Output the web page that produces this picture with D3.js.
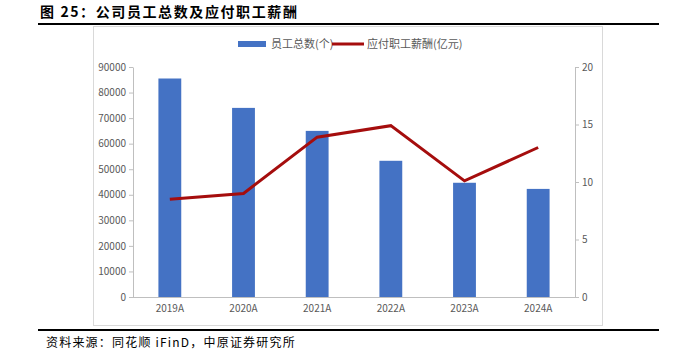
<!DOCTYPE html>
<html>
<head>
<meta charset="utf-8">
<title>公司员工总数及应付职工薪酬</title>
<script src="https://d3js.org/d3.v7.min.js"></script>
<style>
  body { margin: 0; background: #fff; }
  text { font-family: "Noto Sans CJK SC", "DejaVu Sans", sans-serif; }
</style>
</head>
<body>
<script>
// chart data
var years = ["2019A", "2020A", "2021A", "2022A", "2023A", "2024A"];
var staff = [85500, 74000, 65000, 53300, 44700, 42300];      // 员工总数(个)
var payroll = [8.5, 9.0, 13.9, 14.9, 10.1, 13.0];            // 应付职工薪酬(亿元)
var leftTicks = [0, 10000, 20000, 30000, 40000, 50000, 60000, 70000, 80000, 90000];
var rightTicks = [0, 5, 10, 15, 20];

var width = 696, height = 364;
var plotLeft = 133, plotRight = 575, plotTop = 67, plotBottom = 297;

var svg = d3.select("body").append("svg")
  .attr("width", width).attr("height", height);

// title and rules
svg.append("text").attr("x", 40).attr("y", 17)
  .attr("font-size", 14).attr("font-weight", "bold").attr("fill", "#000")
  .attr("letter-spacing", 1.6)
  .text("图 25：公司员工总数及应付职工薪酬");
svg.append("line").attr("x1", 38).attr("x2", 659).attr("y1", 24).attr("y2", 24)
  .attr("stroke", "#000").attr("stroke-width", 2);
svg.append("line").attr("x1", 38).attr("x2", 659).attr("y1", 330).attr("y2", 330)
  .attr("stroke", "#000").attr("stroke-width", 2);
svg.append("text").attr("x", 46).attr("y", 347)
  .attr("font-size", 12).attr("fill", "#000").attr("letter-spacing", 1.2)
  .text("资料来源：同花顺 iFinD，中原证券研究所");

// chart frame
svg.append("rect").attr("x", 93.5).attr("y", 26.5).attr("width", 509).attr("height", 299)
  .attr("fill", "none").attr("stroke", "#d9d9d9");

var x = d3.scaleBand().domain(years).range([plotLeft, plotRight]).paddingInner(0.69).paddingOuter(0.345);
var yL = d3.scaleLinear().domain([0, 90000]).range([plotBottom, plotTop]);
var yR = d3.scaleLinear().domain([0, 20]).range([plotBottom, plotTop]);

// axes
var axisColor = "#bfbfbf", labelColor = "#595959";
function styleAxis(g) {
  g.selectAll("path, line").attr("stroke", axisColor);
  g.selectAll("text").attr("fill", labelColor).attr("font-size", 10);
}
svg.append("g").attr("transform", "translate(" + plotLeft + ",0)")
  .call(d3.axisLeft(yL).tickValues(leftTicks).tickFormat(d3.format("d"))
    .tickSize(4).tickSizeOuter(0).tickPadding(3))
  .call(styleAxis);
svg.append("g").attr("transform", "translate(" + plotRight + ",0)")
  .call(d3.axisRight(yR).tickValues(rightTicks).tickFormat(d3.format("d"))
    .tickSize(4).tickSizeOuter(0).tickPadding(3))
  .call(styleAxis);
var xg = svg.append("g").attr("transform", "translate(0," + plotBottom + ")")
  .call(d3.axisBottom(x).tickSize(0).tickSizeOuter(0).tickPadding(8))
  .call(styleAxis);
xg.select(".domain").attr("d", "M" + plotLeft + ",0.5H" + plotRight);

// bars
svg.append("g").selectAll("rect").data(years).enter().append("rect")
  .attr("x", function(d) { return x(d); })
  .attr("width", x.bandwidth())
  .attr("y", function(d, i) { return yL(staff[i]); })
  .attr("height", function(d, i) { return plotBottom - yL(staff[i]); })
  .attr("fill", "#4472c4");

// line
var line = d3.line()
  .x(function(d, i) { return x(years[i]) + x.bandwidth() / 2; })
  .y(function(d) { return yR(d); });
svg.append("path").datum(payroll).attr("d", line)
  .attr("fill", "none").attr("stroke", "#a50d0d").attr("stroke-width", 3);

// legend
var lg = svg.append("g").attr("font-size", 11).attr("fill", labelColor);
lg.append("rect").attr("x", 238).attr("y", 41).attr("width", 28).attr("height", 6).attr("fill", "#4472c4");
lg.append("text").attr("x", 271).attr("y", 48).attr("fill", labelColor).text("员工总数(个)");
lg.append("line").attr("x1", 332).attr("x2", 364).attr("y1", 44).attr("y2", 44)
  .attr("stroke", "#a50d0d").attr("stroke-width", 3);
lg.append("text").attr("x", 367).attr("y", 48).attr("fill", labelColor).text("应付职工薪酬(亿元)");
</script>
</body>
</html>
